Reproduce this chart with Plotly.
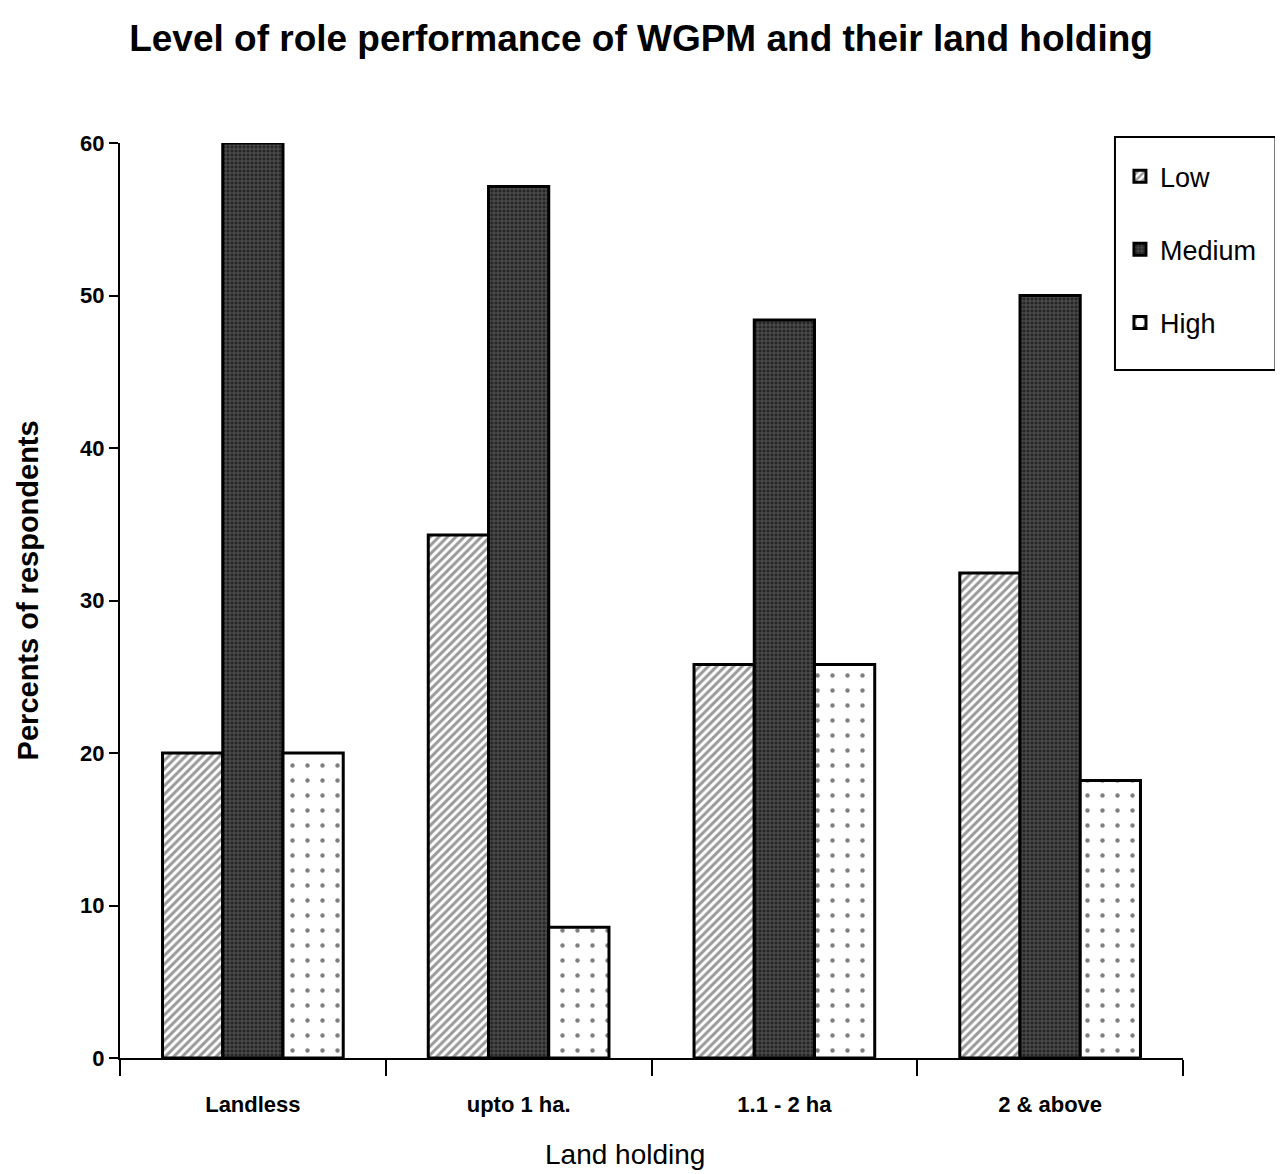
import plotly.graph_objects as go

categories = ["Landless", "upto 1 ha.", "1.1 - 2 ha", "2 & above"]
low = [20.0, 34.29, 25.8, 31.8]
medium = [60.0, 57.14, 48.4, 50.0]
high = [20.0, 8.57, 25.8, 18.2]
y_ticks = [0, 10, 20, 30, 40, 50, 60]

fig = go.Figure()
fig.add_trace(go.Bar(
    name="Low", x=categories, y=low, legendgroup="a",
    marker=dict(color="white", line=dict(color="black", width=3),
                pattern=dict(shape="/", fgcolor="#333333", bgcolor="white", size=6, solidity=0.5)),
))
fig.add_trace(go.Bar(
    name="Medium", x=categories, y=medium, legendgroup="b",
    marker=dict(color="#3a3a3a", line=dict(color="black", width=3),
                pattern=dict(shape="+", fgcolor="#a8a8a8", bgcolor="#262626", size=4, solidity=0.3)),
))
fig.add_trace(go.Bar(
    name="High", x=categories, y=high, legendgroup="c",
    marker=dict(color="white", line=dict(color="black", width=3),
                pattern=dict(shape=".", fgcolor="black", bgcolor="white", size=15, solidity=0.07)),
))

font = "Liberation Sans, Arial"
fig.update_layout(
    width=1275, height=1166,
    margin=dict(l=112, r=100, t=135, b=116),
    paper_bgcolor="white", plot_bgcolor="white",
    barmode="group", bargap=0.32, bargroupgap=0,
    title=dict(text="Level of role performance of WGPM and their land holding",
               x=0.4965, xanchor="center", y=0.974, yanchor="middle",
               font=dict(family=font, size=37, color="black", weight="bold")),
    font=dict(family=font, color="black"),
    showlegend=True,
    legend=dict(x=0.9407, y=0.990, xanchor="left", yanchor="top",
                borderwidth=0, bgcolor="rgba(0,0,0,0)",
                font=dict(family=font, size=27, color="black"),
                traceorder="grouped", tracegroupgap=35,
                itemwidth=30),
    shapes=[dict(type="rect", xref="paper", yref="paper",
                 x0=0.936, x1=1.087, y0=0.752, y1=1.0066,
                 line=dict(color="black", width=2), fillcolor="white", layer="below")],
    xaxis=dict(showline=True, linecolor="black", linewidth=2,
               ticks="outside", tickson="boundaries", ticklen=16, tickwidth=2, tickcolor="black",
               tickfont=dict(family=font, size=22, color="black", weight="bold"),
               ticklabelstandoff=26,
               showgrid=False),
    yaxis=dict(range=[0, 60], tickvals=y_ticks, showline=True, linecolor="black", linewidth=2,
               ticks="outside", ticklen=9, tickwidth=2, tickcolor="black",
               tickfont=dict(family=font, size=22, color="black", weight="bold"),
               ticklabelstandoff=0,
               showgrid=False, zeroline=False),
    annotations=[
        dict(text="Land holding", xref="paper", yref="paper", x=0.475, y=-0.106,
             xanchor="center", yanchor="middle", showarrow=False,
             font=dict(family=font, size=28, color="black")),
        dict(text="Percents of respondents", xref="paper", yref="paper", x=-0.0866, y=0.511,
             xanchor="center", yanchor="middle", textangle=-90, showarrow=False,
             font=dict(family=font, size=29, color="black", weight="bold")),
    ],
)

fig.write_html("out.html")
